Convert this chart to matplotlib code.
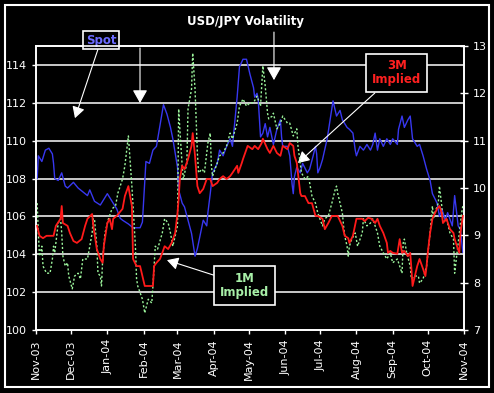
import numpy as np
import pandas as pd
import matplotlib
matplotlib.use("Agg")
import matplotlib.pyplot as plt
import matplotlib.dates as mdates
from matplotlib.patches import Rectangle

# -----------------------------
# Data, days counted from 1 Nov 2003
# -----------------------------
start = pd.Timestamp("2003-11-01")

spot_day = [1, 2, 5, 8, 11, 14, 15, 16, 19, 22, 25, 27, 32, 36, 40, 44, 46, 50, 55, 57,
            61, 63, 66, 69, 72, 74, 79, 83, 89, 91, 94, 97, 100, 103, 106, 109, 112, 115, 117, 121,
            122, 125, 127, 130, 133, 136, 138, 140, 143, 146, 147, 149, 151, 155, 157, 160, 163, 166, 168, 172,
            174, 177, 180, 183, 186, 187, 189, 190, 192, 194, 196, 198, 200, 203, 206, 209, 210, 211, 215, 217,
            219, 220, 221, 223, 226, 228, 232, 234, 237, 239, 240, 241, 243, 245, 249, 251, 254, 257, 260, 262,
            266, 268, 271, 273, 274, 277, 280, 283, 286, 288, 290, 292, 294, 297, 300, 303, 305, 309, 310, 313,
            315, 318, 320, 322, 326, 328, 331, 334, 337, 339, 343, 345, 347, 350, 352, 356, 358, 361, 363, 365]
spot_val = [108.0, 109.2, 108.9, 109.5, 109.6, 109.3, 108.8, 108.0, 107.9, 108.3, 107.6, 107.5, 107.8, 107.5, 107.3, 107.1, 107.4, 106.8, 106.6, 106.8,
            107.2, 107.0, 106.7, 106.4, 105.9, 105.8, 105.6, 105.4, 105.4, 105.7, 108.9, 108.8, 109.5, 109.7, 110.8, 111.9, 111.4, 110.7, 110.1, 108.6,
            107.4, 106.7, 106.5, 105.8, 105.1, 103.9, 104.3, 104.9, 105.8, 105.5, 106.2, 107.2, 108.3, 108.8, 109.5, 109.2, 109.7, 110.1, 109.7, 112.3,
            113.9, 114.3, 114.3, 113.5, 112.8, 112.3, 112.5, 112.2, 110.2, 110.4, 110.9, 110.2, 110.7, 109.8, 110.6, 111.1, 110.2, 109.7, 109.7, 109.2,
            107.7, 107.2, 108.1, 108.6, 108.3, 108.8, 108.3, 108.5, 109.2, 109.7, 109.3, 108.3, 108.6, 109.0, 110.1, 110.9, 112.1, 111.3, 111.6, 111.1,
            110.7, 110.6, 110.4, 109.5, 109.2, 109.7, 109.5, 109.8, 109.5, 109.8, 110.4, 109.5, 110.1, 109.7, 110.1, 109.8, 110.1, 109.8, 110.6, 111.3,
            110.7, 111.1, 111.3, 110.1, 109.7, 109.8, 109.2, 108.5, 107.9, 107.2, 106.7, 106.0, 106.4, 105.8, 106.2, 105.5, 107.1, 105.5, 105.3, 104.1]

imp3m_day = [1, 3, 6, 9, 15, 17, 21, 22, 23, 27, 29, 32, 35, 39, 42, 44, 48, 49, 52, 55,
             57, 58, 61, 63, 65, 66, 69, 74, 76, 79, 80, 82, 83, 86, 89, 91, 93, 97, 100, 101,
             103, 106, 108, 110, 113, 116, 119, 121, 122, 123, 125, 127, 130, 133, 134, 136, 138, 140, 143, 146,
             149, 151, 155, 157, 160, 163, 166, 168, 172, 173, 176, 177, 181, 185, 187, 190, 193, 194, 198, 200,
             203, 206, 209, 211, 215, 217, 220, 221, 223, 224, 226, 227, 230, 233, 236, 239, 241, 245, 247, 250,
             253, 256, 258, 262, 264, 267, 268, 271, 274, 279, 281, 284, 287, 290, 292, 294, 297, 300, 301, 303,
             305, 309, 311, 313, 315, 318, 320, 321, 322, 324, 326, 328, 331, 333, 334, 335, 337, 339, 340, 343,
             345, 347, 348, 351, 354, 357, 358, 360, 362, 363, 365]
imp3m_val = [9.20, 8.99, 8.94, 8.99, 8.99, 9.20, 9.35, 9.62, 9.26, 9.20, 9.05, 8.88, 8.84, 8.92, 9.20, 9.35, 9.45, 9.20, 8.71, 8.50,
             8.42, 8.77, 9.26, 9.35, 9.13, 9.35, 9.41, 9.56, 9.83, 10.04, 9.89, 9.62, 8.50, 8.35, 8.35, 8.14, 7.93, 7.93, 7.93, 8.35,
             8.42, 8.50, 8.63, 8.77, 8.71, 8.84, 9.05, 9.47, 9.77, 10.19, 10.47, 10.40, 10.61, 10.89, 11.16, 10.68, 10.04, 9.89, 9.98, 10.19,
             10.19, 10.04, 10.11, 10.19, 10.25, 10.19, 10.25, 10.32, 10.47, 10.32, 10.53, 10.61, 10.89, 10.82, 10.89, 10.82, 10.95, 11.04, 10.82, 10.74,
             10.89, 10.74, 10.68, 10.89, 10.82, 10.95, 10.89, 10.68, 10.53, 10.32, 9.89, 9.83, 9.83, 9.68, 9.68, 9.41, 9.41, 9.35, 9.13, 9.26,
             9.41, 9.41, 9.41, 9.20, 8.99, 8.94, 8.84, 8.99, 9.35, 9.35, 9.30, 9.37, 9.35, 9.26, 9.35, 9.20, 9.05, 8.84, 8.63, 8.67,
             8.63, 8.61, 8.92, 8.63, 8.67, 8.56, 8.63, 8.31, 7.93, 8.14, 8.35, 8.50, 8.29, 8.14, 8.35, 8.63, 9.05, 9.35, 9.41, 9.56,
             9.62, 9.47, 9.26, 9.35, 9.13, 9.05, 8.92, 8.77, 8.63, 9.05, 9.41]

imp1m_day = [1, 2, 3, 5, 6, 9, 12, 14, 15, 16, 18, 19, 21, 22, 23, 25, 27, 28, 31, 33,
             36, 38, 40, 44, 45, 46, 48, 49, 50, 52, 53, 55, 56, 57, 59, 62, 65, 68, 70, 74,
             76, 79, 80, 82, 85, 86, 87, 91, 93, 96, 99, 100, 102, 104, 108, 110, 113, 115, 117, 121,
             122, 123, 125, 126, 129, 130, 133, 134, 136, 138, 139, 142, 144, 147, 149, 150, 151, 155, 157, 160,
             163, 166, 168, 172, 174, 177, 180, 183, 186, 189, 192, 193, 194, 196, 198, 199, 202, 203, 206, 209,
             211, 215, 217, 220, 223, 224, 227, 230, 233, 236, 239, 241, 245, 247, 250, 253, 256, 257, 258, 260,
             262, 263, 264, 266, 267, 268, 270, 273, 275, 279, 280, 283, 286, 288, 292, 294, 297, 300, 303, 305,
             309, 311, 313, 314, 315, 317, 320, 321, 324, 327, 328, 331, 334, 337, 339, 340, 341, 344, 345, 347,
             348, 351, 354, 357, 358, 360, 362, 364, 365]
imp1m_val = [9.68, 9.05, 8.56, 8.77, 8.35, 8.20, 8.20, 8.50, 8.77, 8.63, 9.05, 9.26, 9.35, 9.05, 8.56, 8.35, 8.42, 8.14, 7.87, 8.14,
             8.20, 8.08, 8.50, 8.50, 8.63, 8.77, 9.05, 9.35, 9.35, 8.77, 8.20, 8.14, 7.93, 8.50, 9.05, 9.35, 9.56, 9.62, 9.89, 10.19,
             10.47, 11.10, 10.74, 10.04, 8.77, 8.08, 7.93, 7.65, 7.36, 7.65, 7.57, 7.93, 8.77, 8.71, 9.05, 9.35, 9.26, 9.05, 8.77, 9.20,
             11.67, 11.25, 10.47, 10.19, 10.53, 11.67, 12.09, 12.85, 12.09, 10.74, 10.32, 10.40, 10.32, 10.95, 11.16, 10.47, 10.25, 10.53, 10.68, 10.74,
             10.89, 11.16, 11.04, 11.37, 11.73, 11.88, 11.73, 11.80, 11.80, 11.94, 11.73, 12.16, 12.58, 12.16, 11.58, 11.46, 11.52, 11.58, 11.25, 11.37,
             11.52, 11.37, 11.37, 11.10, 11.25, 10.89, 10.32, 10.19, 10.25, 9.83, 9.68, 9.47, 9.20, 9.35, 9.41, 9.68, 9.98, 10.04, 9.89, 9.68,
             9.47, 9.20, 8.99, 8.77, 8.56, 8.77, 8.92, 9.05, 8.77, 9.05, 9.35, 9.20, 9.26, 9.35, 9.05, 8.77, 8.63, 8.50, 8.63, 8.42,
             8.50, 8.35, 8.20, 8.84, 8.92, 8.63, 8.35, 8.08, 8.14, 8.14, 7.99, 8.08, 8.35, 9.05, 9.62, 9.35, 9.47, 9.68, 10.04, 9.62,
             9.26, 9.35, 9.05, 8.92, 8.20, 8.63, 9.05, 9.47, 9.62]

left_ticks = [100, 102, 104, 106, 108, 110, 112, 114]
right_ticks = [7, 8, 9, 10, 11, 12, 13]

spot_dates = start + pd.to_timedelta(spot_day, unit="D")
imp3m_dates = start + pd.to_timedelta(imp3m_day, unit="D")
imp1m_dates = start + pd.to_timedelta(imp1m_day, unit="D")

# -----------------------------
# Figure
# -----------------------------
W, H = 494, 393
fig = plt.figure(figsize=(W / 100, H / 100), dpi=100, facecolor="black")
ax = fig.add_axes([36 / W, 1 - 330 / H, 428 / W, 284 / H], facecolor="black")
ax2 = ax.twinx()

# outer white frame
fig.patches.append(Rectangle((5 / W, 6 / H), 484 / W, 382 / H, transform=fig.transFigure,
                             fill=False, ec="white", lw=1.5))

for y in left_ticks[1:]:
    ax.axhline(y, color="white", lw=1.1, zorder=1)

ax.plot(spot_dates, spot_val, color="#3838f0", lw=1.0, zorder=3)
ax2.plot(imp1m_dates, imp1m_val, color="#9cf59c", lw=1.0, ls=(0, (1.5, 1.5)), zorder=2)
ax2.plot(imp3m_dates, imp3m_val, color="#ff1a1a", lw=1.3, zorder=3)

ax.set_xlim(pd.Timestamp("2003-11-01"), pd.Timestamp("2004-11-01"))
ax.set_ylim(100, 115)
ax2.set_ylim(7, 13)
ax.set_yticks(left_ticks)
ax2.set_yticks(right_ticks)

ax.xaxis.set_major_locator(mdates.MonthLocator())
ax.xaxis.set_major_formatter(mdates.DateFormatter("%b-%y"))
for lab in ax.get_xticklabels():
    lab.set_rotation(90)

for a in (ax, ax2):
    for s in a.spines.values():
        s.set_color("white")
        s.set_linewidth(1.2)
ax.tick_params(axis="both", colors="white", labelsize=8, length=3, width=1)
ax2.tick_params(axis="y", colors="white", labelsize=8, length=6, width=1, direction="inout")

fig.text(245 / W, 1 - 21 / H, "USD/JPY Volatility", color="white", fontsize=8.5,
         fontweight="bold", ha="center", va="center")

# -----------------------------
# Annotations
# -----------------------------
arrow = dict(arrowstyle="-|>,head_length=0.8,head_width=0.45", color="white", lw=0.8,
             shrinkA=0, shrinkB=0)
spot_box = dict(boxstyle="square,pad=0.2", fc="black", ec="white", lw=1.2)
box = dict(boxstyle="square,pad=0.5", fc="black", ec="white", lw=1.2)

ax.annotate("Spot", xy=(0.091, 0.746), xytext=(0.152, 1.021), xycoords="axes fraction",
            textcoords="axes fraction", ha="center", va="center", color="#6b6bff",
            fontsize=8.5, fontweight="bold", bbox=spot_box, arrowprops=arrow, annotation_clip=False)
ax.annotate("", xy=(0.243, 0.799), xytext=(0.243, 0.993), xycoords="axes fraction",
            textcoords="axes fraction", arrowprops=arrow, annotation_clip=False)
ax.annotate("", xy=(0.556, 0.880), xytext=(0.556, 1.049), xycoords="axes fraction",
            textcoords="axes fraction", arrowprops=arrow, annotation_clip=False)
ax.annotate("3M\nImplied", xy=(0.612, 0.588), xytext=(0.843, 0.905), xycoords="axes fraction",
            textcoords="axes fraction", ha="center", va="center", color="#ff2020",
            fontsize=8.5, fontweight="bold", bbox=box, arrowprops=arrow, zorder=6,
            linespacing=1.1)
ax.annotate("1M\nImplied", xy=(0.306, 0.246), xytext=(0.488, 0.158), xycoords="axes fraction",
            textcoords="axes fraction", ha="center", va="center", color="#a8f0a8",
            fontsize=8.5, fontweight="bold", bbox=box, arrowprops=arrow, zorder=6,
            linespacing=1.1)

fig.savefig("out.png", dpi=100, facecolor="black")
